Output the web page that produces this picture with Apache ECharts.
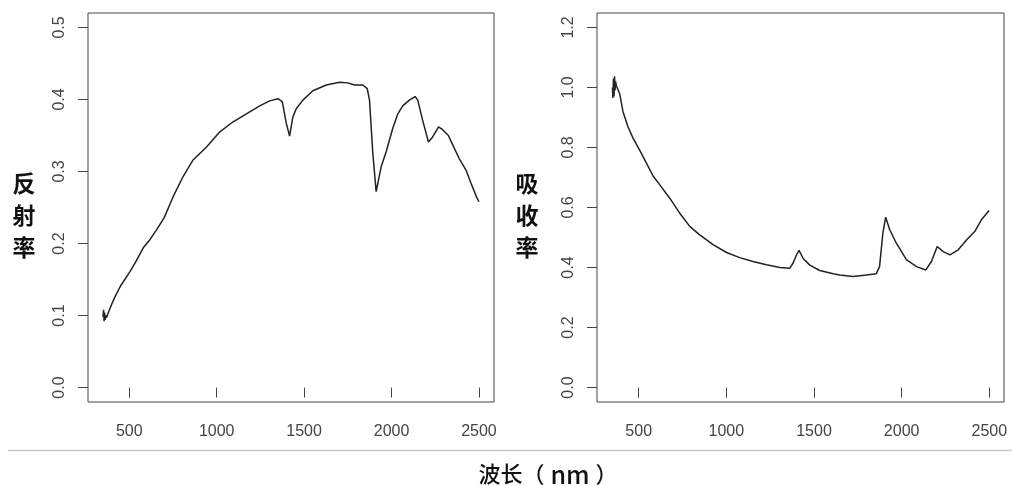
<!DOCTYPE html>
<html>
<head>
<meta charset="utf-8">
<script src="https://cdn.jsdelivr.net/npm/echarts@6/dist/echarts.min.js"></script>
<style>
html,body{margin:0;padding:0;background:#fff;}
#chart{width:1012px;height:486px;}
</style>
</head>
<body>
<div id="chart"></div>
<script>
// ---- data ----
var reflWavelength = [350,353,356,359,362,365,370,380,400,418,450,504,540,580,620,656,700,751,808,865,942,1018,1094,1170,1246,1303,1350,1375,1398,1417,1436,1455,1493,1550,1627,1703,1750,1788,1836,1861,1874,1893,1912,1941,1969,2007,2036,2064,2102,2135,2150,2178,2211,2235,2269,2292,2325,2350,2387,2426,2454,2489,2500];
var reflectance    = [0.098,0.108,0.092,0.104,0.094,0.100,0.097,0.104,0.116,0.126,0.141,0.161,0.176,0.194,0.206,0.219,0.236,0.265,0.293,0.316,0.334,0.355,0.369,0.380,0.391,0.398,0.401,0.397,0.367,0.349,0.376,0.387,0.399,0.412,0.420,0.424,0.423,0.420,0.420,0.415,0.399,0.325,0.272,0.307,0.327,0.360,0.380,0.391,0.399,0.404,0.399,0.371,0.341,0.348,0.362,0.358,0.350,0.337,0.318,0.302,0.284,0.263,0.258];

var absWavelength = [350,353,356,359,362,365,368,373,392,410,439,467,506,544,582,630,677,734,791,848,924,1001,1076,1152,1229,1305,1362,1381,1400,1415,1438,1476,1533,1609,1647,1723,1799,1855,1874,1893,1909,1932,1970,2027,2085,2138,2170,2203,2237,2275,2323,2370,2417,2455,2499];
var absorbance    = [1.000,0.965,1.030,0.970,1.037,0.990,1.020,1.005,0.978,0.920,0.868,0.832,0.790,0.748,0.705,0.668,0.631,0.581,0.537,0.509,0.476,0.450,0.433,0.420,0.409,0.400,0.398,0.415,0.442,0.457,0.430,0.408,0.390,0.379,0.375,0.370,0.375,0.379,0.403,0.515,0.568,0.526,0.481,0.426,0.403,0.392,0.420,0.470,0.453,0.442,0.459,0.492,0.520,0.559,0.590];

var xTicks = [500,1000,1500,2000,2500];
var yTicksRefl = [0,0.1,0.2,0.3,0.4,0.5];
var yTicksAbs  = [0,0.2,0.4,0.6,0.8,1.0,1.2];
var yLabelRefl = '反\n射\n率';
var yLabelAbs  = '吸\n收\n率';
var xTitleParts = ['波长（', 'nm', '）'];

function pairs(xs, ys){ return xs.map(function(x,i){ return [x, ys[i]]; }); }

var tickColor = '#444';
var labelStyle = {color:'#444', fontSize:16, fontFamily:'Liberation Sans, Arial, sans-serif'};

function xAxisDef(gridIndex, min, max){
  return {
    type:'value', gridIndex:gridIndex, min:min, max:max,
    axisLine:{show:false},
    splitLine:{show:false},
    axisTick:{show:true, length:10, lineStyle:{color:tickColor, width:1}, customValues:xTicks},
    axisLabel:Object.assign({margin:22, customValues:xTicks, formatter:function(v){return String(v);}}, labelStyle)
  };
}
function yAxisDef(gridIndex, min, max, ticks){
  return {
    type:'value', gridIndex:gridIndex, min:min, max:max,
    axisLine:{show:false},
    splitLine:{show:false},
    axisTick:{show:true, length:10, lineStyle:{color:tickColor, width:1}, customValues:ticks},
    axisLabel:Object.assign({margin:20, rotate:90, customValues:ticks, formatter:function(v){return v.toFixed(1);}}, labelStyle)
  };
}

var chart = echarts.init(document.getElementById('chart'), null, {renderer:'canvas'});
chart.setOption({
  animation:false,
  backgroundColor:'#fff',
  grid:[
    {left:88, top:13, width:406, height:389, show:true, borderColor:'#444', borderWidth:1, backgroundColor:'transparent'},
    {left:597, top:13, width:407, height:389, show:true, borderColor:'#444', borderWidth:1, backgroundColor:'transparent'}
  ],
  xAxis:[ xAxisDef(0, 264, 2586), xAxisDef(1, 262, 2584) ],
  yAxis:[ yAxisDef(0, -0.02, 0.52, yTicksRefl), yAxisDef(1, -0.048, 1.248, yTicksAbs) ],
  series:[
    {type:'line', xAxisIndex:0, yAxisIndex:0, data:pairs(reflWavelength, reflectance), showSymbol:false, symbol:'none', smooth:false, lineStyle:{color:'#222', width:1.5}},
    {type:'line', xAxisIndex:1, yAxisIndex:1, data:pairs(absWavelength, absorbance), showSymbol:false, symbol:'none', smooth:false, lineStyle:{color:'#222', width:1.5}}
  ],
  graphic:[
    {type:'text', x:24, y:215, style:{text:yLabelRefl, font:'bold 23px "Noto Sans CJK SC"', fill:'#111', align:'center', verticalAlign:'middle', lineHeight:32}},
    {type:'text', x:527, y:215, style:{text:yLabelAbs, font:'bold 23px "Noto Sans CJK SC"', fill:'#111', align:'center', verticalAlign:'middle', lineHeight:32}},
    {type:'line', shape:{x1:8, y1:450.5, x2:1012, y2:450.5}, style:{stroke:'#c8c8c8', lineWidth:1.5}},
    {type:'text', x:548, y:474, style:{
      text:'{a|' + xTitleParts[0] + '}{b|' + xTitleParts[1] + '}{a|' + xTitleParts[2] + '}',
      align:'center', verticalAlign:'middle',
      rich:{
        a:{fontFamily:'"Noto Sans CJK SC"', fontWeight:500, fontSize:22, fill:'#111', color:'#111'},
        b:{fontFamily:'"Noto Sans CJK SC"', fontWeight:500, fontSize:25, fill:'#111', color:'#111', padding:[0,6,0,6]}
      }
    }}
  ]
});
</script>
</body>
</html>
